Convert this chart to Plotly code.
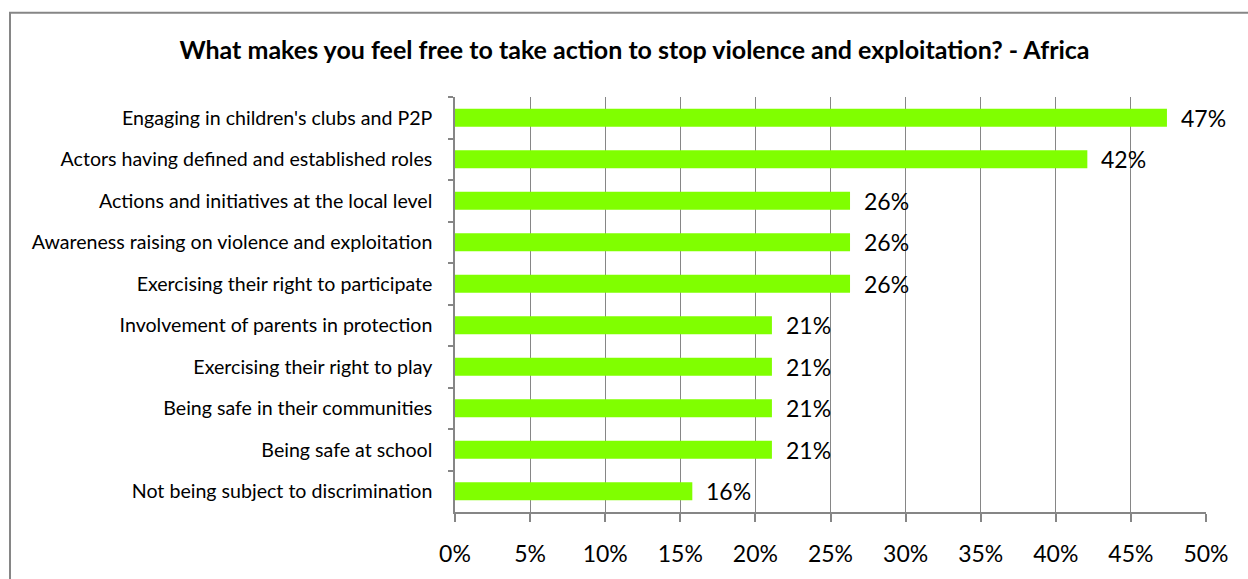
import plotly.graph_objects as go

# Survey responses (share of respondents), listed top to bottom
categories = [
    "Engaging in children's clubs and P2P",
    "Actors having defined and established roles",
    "Actions and initiatives at the local level",
    "Awareness raising on violence and exploitation",
    "Exercising their right to participate",
    "Involvement of parents in protection",
    "Exercising their right to play",
    "Being safe in their communities",
    "Being safe at school",
    "Not being subject to discrimination",
]
shares = [0.474, 0.421, 0.263, 0.263, 0.263, 0.211, 0.211, 0.211, 0.211, 0.158]

x_ticks = [0, 0.05, 0.10, 0.15, 0.20, 0.25, 0.30, 0.35, 0.40, 0.45, 0.50]
x_tick_labels = ["0%", "5%", "10%", "15%", "20%", "25%", "30%", "35%", "40%", "45%", "50%"]

title_text = "What makes you feel free to take action to stop violence and exploitation? - Africa"

FONT = "Lato, 'Open Sans', sans-serif"
GRID = "#868686"
W, H = 1248, 579
L, R, T, B = 455, 1206, 97, 521

fig = go.Figure(
    go.Bar(
        x=shares,
        y=categories,
        orientation="h",
        marker=dict(color="#80ff00", line=dict(width=0)),
        width=0.43,
        hoverinfo="skip",
    )
)

# value labels placed just past the end of each bar
for cat, val in zip(categories, shares):
    fig.add_annotation(
        x=val, y=cat, xref="x", yref="y",
        text=f"{val:.0%}", showarrow=False,
        xanchor="left", yanchor="middle", xshift=12,
        font=dict(family=FONT, size=23, color="#000000"),
    )

# outer chart frame (runs off the right and bottom edges)
pw, ph = R - L, B - T
fig.add_shape(
    type="rect", xref="paper", yref="paper",
    x0=(10 - L) / pw, x1=(1280 - L) / pw,
    y0=(B - 620) / ph, y1=(B - 11) / ph,
    line=dict(color=GRID, width=2), fillcolor="rgba(0,0,0,0)", layer="below",
)

fig.update_layout(
    width=W, height=H,
    margin=dict(l=L, r=W - R, t=T, b=H - B, pad=0),
    paper_bgcolor="white", plot_bgcolor="white",
    showlegend=False,
    title=dict(
        text=f"<b>{title_text}</b>",
        x=634.5 / W, xref="container", xanchor="center",
        y=1 - 50 / H, yref="container", yanchor="middle",
        font=dict(family=FONT, size=25, color="#000000"),
    ),
    xaxis=dict(
        range=[0, 0.5], tickvals=x_ticks, ticktext=x_tick_labels,
        showgrid=True, gridcolor=GRID, gridwidth=1.3,
        showline=True, linecolor=GRID, linewidth=1.5,
        ticks="outside", ticklen=8, tickcolor=GRID, tickwidth=1.5,
        ticklabelstandoff=13,
        tickfont=dict(family=FONT, size=23, color="#000000"),
        zeroline=False, fixedrange=True,
    ),
    yaxis=dict(
        autorange="reversed", type="category",
        showgrid=False, showline=True, linecolor=GRID, linewidth=1.5,
        ticks="outside", ticklen=5, tickcolor=GRID, tickwidth=1.5,
        tickson="boundaries", ticklabelstandoff=17,
        tickfont=dict(family=FONT, size=19.6, color="#000000"),
        fixedrange=True,
    ),
)

fig.write_html("out.html")
